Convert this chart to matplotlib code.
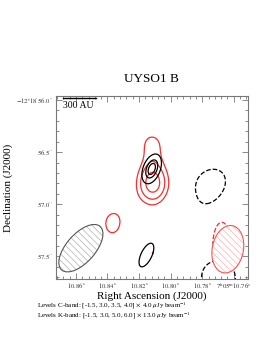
import numpy as np
import matplotlib
matplotlib.use("Agg")
import matplotlib.pyplot as plt
from matplotlib.patches import Ellipse
from matplotlib.ticker import FixedLocator

plt.rcParams['font.family'] = ['Liberation Serif', 'DejaVu Serif']
plt.rcParams['mathtext.fontset'] = 'stix'
plt.rcParams['hatch.linewidth'] = 0.5

# axis ticks
ra_ticks = [10.86, 10.84, 10.82, 10.80, 10.78, 10.76]
ra_labels = [r'$10.86^{\rm s}$', r'$10.84^{\rm s}$', r'$10.82^{\rm s}$',
             r'$10.80^{\rm s}$', r'$10.78^{\rm s}$', r'$7^{\rm h}05^{\rm m}10.76^{\rm s}$']
dec_ticks = [56.0, 56.5, 57.0, 57.5]
dec_labels = [r'$-12^{\circ}18^{\prime}56.0^{\prime\prime}$', r'$56.5^{\prime\prime}$',
              r'$57.0^{\prime\prime}$', r'$57.5^{\prime\prime}$']

# contour levels (sigma multiples x rms, uJy/beam)
c_mult = [-1.5, 3.0, 3.5, 4.0]
c_rms = 4.0
k_mult = [-1.5, 3.0, 5.0, 6.0]
k_rms = 13.0

# emission components, offsets in arcsec from 7h05m10.80s -12d18m56.0s
# x, y, peak (uJy), sigma major, sigma minor, angle (deg)
c_x = [0.165, 0.174, 0.545, 0.165, -0.475]
c_y = [-0.798, -0.365, -1.192, -1.48, -1.394]
c_amp = [17.0, 8.9, 13.0, 11.65, -8.0]
c_smaj = [0.24, 0.138, 0.183, 0.173, 0.29]
c_smin = [0.176, 0.148, 0.127, 0.074, 0.11]
c_ang = [90, 90, 90, 90, 90]

k_x = [0.174, 0.21, -0.33, -0.447]
k_y = [-0.663, -1.46, -0.84, -1.712]
k_amp = [92.0, 45.5, -22.0, -30.0]
k_smaj = [0.122, 0.32, 0.42, 0.162]
k_smin = [0.066, 0.125, 0.30, 0.162]
k_ang = [110, 115, 135, 0]

# beams: x, y, width, height, angle
beam_k = (0.833, -1.423, 0.55, 0.27, 130)
beam_c = (-0.531, -1.433, 0.29, 0.46, 10)

cosd = np.cos(np.radians(12.3122))
def ra_to_x(ra):
    return (np.asarray(ra) - 10.80) * 15.0 * cosd

def dec_to_y(d):
    return -(np.asarray(d) - 56.0)

xx, yy = np.meshgrid(np.linspace(-0.9, 1.2, 400), np.linspace(-1.9, 0.2, 400))

def model(xs, ys, amps, smaj, smin, angs):
    img = np.zeros_like(xx)
    for x0, y0, a, s1, s2, t in zip(xs, ys, amps, smaj, smin, angs):
        t = np.radians(t)
        dx = xx - x0
        dy = yy - y0
        u = dx * np.cos(t) + dy * np.sin(t)
        v = -dx * np.sin(t) + dy * np.cos(t)
        img += a * np.exp(-0.5 * ((u / s1) ** 2 + (v / s2) ** 2))
    return img

img_c = model(c_x, c_y, c_amp, c_smaj, c_smin, c_ang)
img_k = model(k_x, k_y, k_amp, k_smaj, k_smin, k_ang)

fig = plt.figure(figsize=(2.7, 3.48), dpi=100)
ax = fig.add_axes([0.207, 0.198, 0.711, 0.526])

ax.contour(xx, yy, img_c, levels=np.array(c_mult) * c_rms, colors='#ff2a2a',
           linewidths=0.9, negative_linestyles='dashed')
ax.contour(xx, yy, img_k, levels=np.array(k_mult) * k_rms, colors='black',
           linewidths=0.9, negative_linestyles='dashed')

bx, by, bw, bh, ba = beam_k
ax.add_patch(Ellipse((bx, by), bw, bh, angle=ba, facecolor='white',
                     edgecolor='#b0b0b0', hatch='\\\\\\\\\\', lw=0, zorder=5))
ax.add_patch(Ellipse((bx, by), bw, bh, angle=ba, facecolor='none',
                     edgecolor='#555555', lw=0.8, zorder=6))
bx, by, bw, bh, ba = beam_c
ax.add_patch(Ellipse((bx, by), bw, bh, angle=ba, facecolor='white',
                     edgecolor='#ffb0b0', hatch='\\\\\\\\\\', lw=0, zorder=5))
ax.add_patch(Ellipse((bx, by), bw, bh, angle=ba, facecolor='none',
                     edgecolor='#ff5050', lw=0.8, zorder=6))

# scale bar
ax.plot([1.0, 0.693], [0.015, 0.015], color='black', lw=1.0, zorder=7)
ax.text(1.0, -0.005, '300 AU', fontsize=7, ha='left', va='top', zorder=7)

ax.set_xlim(1.065, -0.717)
ax.set_ylim(-1.72, 0.0385)

ax.xaxis.set_major_locator(FixedLocator(ra_to_x(ra_ticks)))
ax.xaxis.set_minor_locator(FixedLocator(ra_to_x(np.arange(10.74, 10.881, 0.004))))
ax.set_xticklabels(ra_labels)
ax.yaxis.set_major_locator(FixedLocator(dec_to_y(dec_ticks)))
ax.yaxis.set_minor_locator(FixedLocator(dec_to_y(np.arange(55.9, 57.81, 0.1))))
ax.set_yticklabels(dec_labels)

for s in ax.spines.values():
    s.set_color('#777777')
    s.set_linewidth(0.8)
ax.tick_params(which='both', direction='in', top=True, right=True, colors='#777777',
               labelcolor='#333333', labelsize=4.8, width=0.6)
ax.tick_params(axis='y', pad=2)
ax.tick_params(axis='x', pad=1.5)
ax.tick_params(which='major', length=4)
ax.tick_params(which='minor', length=2)

ax.set_title('UYSO1 B', fontsize=9.5, pad=10)
ax.set_xlabel('Right Ascension (J2000)', fontsize=8, labelpad=0)
ax.set_ylabel('Declination (J2000)', fontsize=8, labelpad=2)

fig.text(0.137, 0.121, r'Levels C-band: [-1.5, 3.0, 3.5, 4.0] $\times$ 4.0 $\mu$Jy beam$^{-1}$',
         fontsize=5, va='center')
fig.text(0.137, 0.093, r'Levels K-band: [-1.5, 3.0, 5.0, 6.0] $\times$ 13.0 $\mu$Jy beam$^{-1}$',
         fontsize=5, va='center')

fig.savefig('out.png', dpi=100)
